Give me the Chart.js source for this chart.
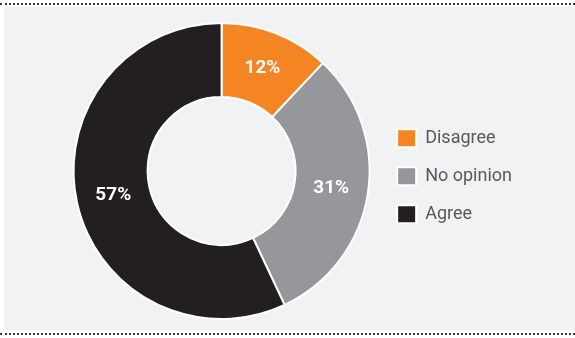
<!DOCTYPE html>
<html>
<head>
<meta charset="utf-8">
<script src="https://cdn.jsdelivr.net/npm/chart.js@4"></script>
<style>
  html, body { margin:0; padding:0; background:#fff; width:575px; height:338px; overflow:hidden; }
  .topline { position:absolute; left:0; top:3px; width:575px; height:0; border-top:2px dotted #3a3a3a; }
  .botline { position:absolute; left:0; top:333px; width:575px; height:0; border-top:2px dotted #3a3a3a; }
  .panel { position:absolute; left:4px; top:7px; width:571px; height:323px; background:#f1f2f4; }
  .panel canvas { display:block; }
</style>
</head>
<body>
<div class="topline"></div>
<div class="panel"><canvas id="c" width="571" height="323"></canvas></div>
<div class="botline"></div>
<script>
const categories = ["Disagree", "No opinion", "Agree"];
const values = [12, 31, 57];
const labelsText = ["12%", "31%", "57%"];
const colors = ["#f58423", "#96979a", "#231f20"];

const pctLabels = {
  id: 'pctLabels',
  afterDatasetsDraw(chart) {
    const ctx = chart.ctx;
    const meta = chart.getDatasetMeta(0);
    ctx.save();
    ctx.fillStyle = '#ffffff';
    ctx.font = 'bold 19px Roboto, "Liberation Sans", sans-serif';
    ctx.textAlign = 'center';
    ctx.textBaseline = 'middle';
    meta.data.forEach((arc, i) => {
      const p = arc.tooltipPosition();
      ctx.fillText(labelsText[i], p.x, p.y);
    });
    ctx.restore();
  }
};

new Chart(document.getElementById('c'), {
  type: 'doughnut',
  data: {
    labels: categories,
    datasets: [{
      data: values,
      backgroundColor: colors,
      borderColor: '#ffffff',
      borderWidth: 2
    }]
  },
  options: {
    responsive: false,
    animation: false,
    cutout: '50%',
    layout: { padding: { left: 62, top: 15, bottom: 10, right: 53 } },
    plugins: {
      tooltip: { enabled: false },
      legend: {
        position: 'right',
        align: 'center',
        title: { display: true, text: ' ', font: { size: 2 }, padding: 4 },
        labels: {
          boxWidth: 19,
          boxHeight: 18,
          padding: 20,
          color: '#58595b',
          font: { size: 18, family: 'Roboto, "Liberation Sans", sans-serif' }
        }
      }
    }
  },
  plugins: [pctLabels]
});
</script>
</body>
</html>
